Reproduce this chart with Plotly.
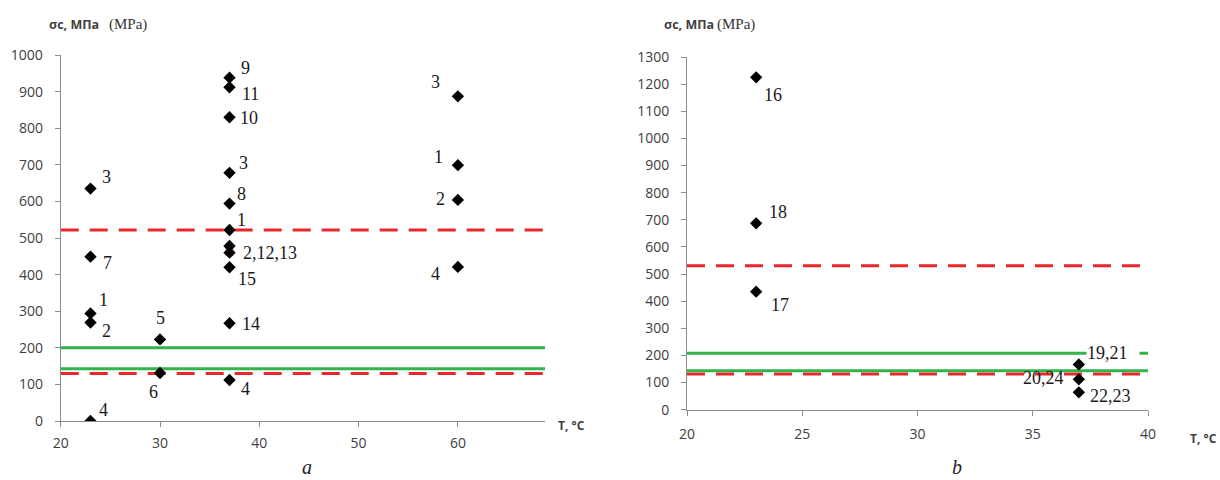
import plotly.graph_objects as go

# ---------------- data: panel a ----------------
a_temp = [23, 23, 23, 23, 23, 30, 30, 37, 37, 37, 37, 37, 37, 37, 37, 37, 37, 37, 60, 60, 60, 60]
a_sigma = [635, 449, 294, 269, 0, 223, 131, 938, 912, 830, 678, 594, 522, 478, 460, 420, 267, 112, 887, 699, 604, 421]
a_labels = ["3", "7", "1", "2", "4", "5", "6", "9", "11", "10", "3", "8", "1", "2,12,13", "", "15", "14", "4",
            "3", "1", "2", "4"]
a_red = [522, 130]
a_green = [200, 143]

# ---------------- data: panel b ----------------
b_temp = [23, 23, 23, 37, 37, 37]
b_sigma = [1225, 687, 435, 167, 112, 64]
b_labels = ["16", "18", "17", "19,21", "20,24", "22,23"]
b_red = [531, 132]
b_green = [208, 144]

a_ticks = [0, 100, 200, 300, 400, 500, 600, 700, 800, 900, 1000]
b_ticks = [0, 100, 200, 300, 400, 500, 600, 700, 800, 900, 1000, 1100, 1200, 1300]

# label placement (pixel shifts, anchor) – styling only
a_off = [(16, 12, "center"), (17, -6, "center"), (13, 13, "center"), (16, -8, "center"), (13, 11, "center"),
         (0, 21, "center"), (-7, -19, "center"),
         (16, 10, "center"), (21, -7, "center"), (19, -1, "center"), (14, 10, "center"), (12, 10, "center"),
         (12, 10, "center"), (11, -7, "left"), (0, 0, "center"), (17, -12, "center"), (21, -1, "center"),
         (16, -9, "center"),
         (-22, 14, "center"), (-19, 8, "center"), (-17, 1, "center"), (-22, -7, "center")]
b_off = [(17, -18, "center"), (22, 11, "center"), (24, -13, "center"), (7, 11, "left"), (-13, 1, "right"),
         (9, -4, "left")]

RED = "#e8262b"
GREEN = "#33b34a"
AXC = "#8c8c8c"
TICKF = dict(family="Open Sans", size=14, color="#404040")
LABF = dict(family="Liberation Serif", size=18, color="#1a1a1a")

fig = go.Figure()

# threshold lines
for v in a_red:
    fig.add_shape(type="line", xref="x domain", yref="y", x0=0, x1=1, y0=v, y1=v,
                  line=dict(color=RED, width=3, dash="18px,11px"), layer="below")
for v in a_green:
    fig.add_shape(type="line", xref="x domain", yref="y", x0=0, x1=1, y0=v, y1=v,
                  line=dict(color=GREEN, width=3), layer="below")
for v in b_red:
    fig.add_shape(type="line", xref="x2 domain", yref="y2", x0=0, x1=1, y0=v, y1=v,
                  line=dict(color=RED, width=3, dash="18px,11px"), layer="below")
for v in b_green:
    fig.add_shape(type="line", xref="x2 domain", yref="y2", x0=0, x1=1, y0=v, y1=v,
                  line=dict(color=GREEN, width=3), layer="below")

# small pink marker behind the 2,12,13 group
fig.add_trace(go.Scatter(x=[a_temp[14]], y=[a_sigma[14] + 3], mode="markers",
                         marker=dict(symbol="square", size=9, color="#f3c4c4"),
                         xaxis="x", yaxis="y", showlegend=False, hoverinfo="skip"))

fig.add_trace(go.Scatter(x=a_temp, y=a_sigma, mode="markers",
                         marker=dict(symbol="diamond", size=9.5, color="black"),
                         xaxis="x", yaxis="y", showlegend=False))
fig.add_trace(go.Scatter(x=b_temp, y=b_sigma, mode="markers",
                         marker=dict(symbol="diamond", size=9.5, color="black"),
                         xaxis="x2", yaxis="y2", showlegend=False))

anns = []
for t, s, lab, (dx, dy, anc) in zip(a_temp, a_sigma, a_labels, a_off):
    if not lab:
        continue
    anns.append(dict(x=t, y=s, xref="x", yref="y", text=lab, showarrow=False, xshift=dx, yshift=dy,
                     xanchor=anc, yanchor="middle", font=LABF))
for i, (t, s, lab, (dx, dy, anc)) in enumerate(zip(b_temp, b_sigma, b_labels, b_off)):
    extra = {}
    if lab == "19,21":
        extra = dict(bgcolor="white", width=52, align="left", borderpad=0)
    anns.append(dict(x=t, y=s, xref="x2", yref="y2", text=lab, showarrow=False, xshift=dx, yshift=dy,
                     xanchor=anc, yanchor="middle", font=LABF, **extra))

# axis titles and panel letters
for xl, xr in [(47, 107), (662, 715)]:
    anns.append(dict(x=xl / 1220, y=1 - 24 / 480, xref="paper", yref="paper", xanchor="left", yanchor="middle",
                     text="<b>σс, МПа</b>", showarrow=False,
                     font=dict(family="Open Sans", size=12.5, color="#404040")))
    anns.append(dict(x=xr / 1220, y=1 - 24 / 480, xref="paper", yref="paper", xanchor="left", yanchor="middle",
                     text="(MPa)", showarrow=False,
                     font=dict(family="Liberation Serif", size=15, color="#333333")))
anns.append(dict(x=556 / 1220, y=1 - 425 / 480, xref="paper", yref="paper", xanchor="left", yanchor="middle",
                 text="<b>T, °C</b>", showarrow=False, font=dict(family="Open Sans", size=12, color="#404040")))
anns.append(dict(x=1188 / 1220, y=1 - 438 / 480, xref="paper", yref="paper", xanchor="left", yanchor="middle",
                 text="<b>T, °C</b>", showarrow=False, font=dict(family="Open Sans", size=12, color="#404040")))
anns.append(dict(x=307 / 1220, y=0, xref="paper", yref="paper", xanchor="center", yanchor="bottom",
                 text="<i>a</i>", showarrow=False, font=dict(family="Liberation Serif", size=20, color="#222222")))
anns.append(dict(x=957 / 1220, y=0, xref="paper", yref="paper", xanchor="center", yanchor="bottom",
                 text="<i>b</i>", showarrow=False, font=dict(family="Liberation Serif", size=20, color="#222222")))

common_ax = dict(showline=True, linecolor=AXC, linewidth=1, ticks="outside", ticklen=5, tickcolor=AXC,
                 showgrid=False, zeroline=False, tickfont=TICKF, automargin=False)

fig.update_layout(
    template="none",
    width=1220, height=480, margin=dict(l=0, r=0, t=0, b=0, pad=0),
    paper_bgcolor="white", plot_bgcolor="white",
    xaxis=dict(domain=[60.7 / 1220, 545 / 1220], range=[20, 20 + (545 - 60.7) / 9.93],
               tickvals=[20, 30, 40, 50, 60], anchor="y", ticklabelstandoff=4, **common_ax),
    yaxis=dict(domain=[1 - 421 / 480, 1 - 55 / 480], range=[0, 1000], tickvals=a_ticks, anchor="x",
               ticklabelstandoff=9, **common_ax),
    xaxis2=dict(domain=[687 / 1220, 1148 / 1220], range=[20, 40], tickvals=[20, 25, 30, 35, 40], anchor="y2",
                ticklabelstandoff=6, **common_ax),
    yaxis2=dict(domain=[1 - 409.7 / 480, 1 - 57 / 480], range=[0, 1300], tickvals=b_ticks, anchor="x2",
                ticklabelstandoff=9, **common_ax),
    annotations=anns,
)

fig.write_html("out.html")
